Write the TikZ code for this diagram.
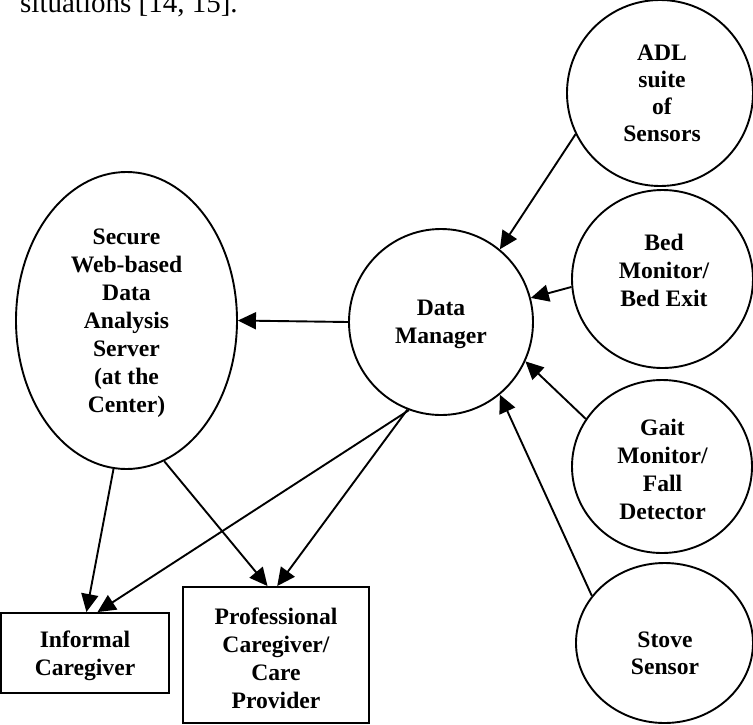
\documentclass[tikz,border=0pt]{standalone}
\usepackage{fontspec}
\setmainfont{Liberation Serif}
\usetikzlibrary{shapes.geometric,arrows.meta}
\tikzset{
  blob/.style={draw=black, line width=1.9pt, ellipse, inner sep=0pt},
  boxnode/.style={draw=black, line width=1.9pt, rectangle, inner sep=0pt},
  lbl/.style={align=center, inner sep=0pt, font=\fontsize{23.6}{28}\selectfont\bfseries},
  conn/.style={draw=black, line width=1.9pt, -{Triangle[length=18pt,width=17pt]}},
}
\begin{document}
\begin{tikzpicture}[x=1pt,y=-1pt]
\useasboundingbox (0,0) rectangle (753,724);
\node[anchor=base west, inner sep=0pt, font=\fontsize{29}{34}\selectfont] (cap) at (20,12) {situations [14, 15].};

\node[blob, minimum width=221pt, minimum height=297pt] (sec) at (126.5,320.5) {};
\node[blob, minimum width=184pt, minimum height=186pt] (dm) at (441,322) {};
\node[blob, minimum width=186pt, minimum height=186pt] (adl) at (660,93) {};
\node[blob, minimum width=181pt, minimum height=178pt] (bed) at (662.5,279) {};
\node[blob, minimum width=180pt, minimum height=173pt] (gait) at (662,466.5) {};
\node[blob, minimum width=177pt, minimum height=160pt] (stove) at (664.5,643) {};
\node[boxnode, minimum width=168pt, minimum height=80pt] (inf) at (85,653) {};
\node[boxnode, minimum width=186pt, minimum height=136pt] (prof) at (276,655) {};

\node[lbl] (sectxt) at (126.5,323) {Secure\\Web-based\\Data\\Analysis\\Server\\(at the\\Center)};
\node[lbl] (dmtxt) at (441,324) {Data\\Manager};
\node[lbl, font=\fontsize{23.6}{27}\selectfont\bfseries] (adltxt) at (662,93) {ADL\\suite\\of\\Sensors};
\node[lbl] (bedtxt) at (664,270) {Bed\\Monitor/\\Bed Exit};
\node[lbl] (gaittxt) at (662.5,469.5) {Gait\\Monitor/\\Fall\\Detector};
\node[lbl, font=\fontsize{23.6}{27}\selectfont\bfseries] (stovetxt) at (665,653.5) {Stove\\Sensor};
\node[lbl] (inftxt) at (85,656) {Informal\\Caregiver};
\node[lbl] (proftxt) at (276,658.5) {Professional\\Caregiver/\\Care\\Provider};

\draw[conn] (adl.206) -- (dm.51);
\draw[conn] (bed.185) -- (dm.15.7);
\draw[conn] (gait.148) -- (dm.-25);
\draw[conn] (stove.147.6) -- (dm.-51.3);
\draw[conn] (dm.180) -- (sec.-0.8);
\draw[conn] (sec.265.2) -- (inf.88.5);
\draw[conn] (dm.250.8) -- (inf.73.3);
\draw[conn] (sec.-75.8) -- (prof.97.5);
\draw[conn] (dm.249.9) -- (prof.89.2);
\end{tikzpicture}
\end{document}
